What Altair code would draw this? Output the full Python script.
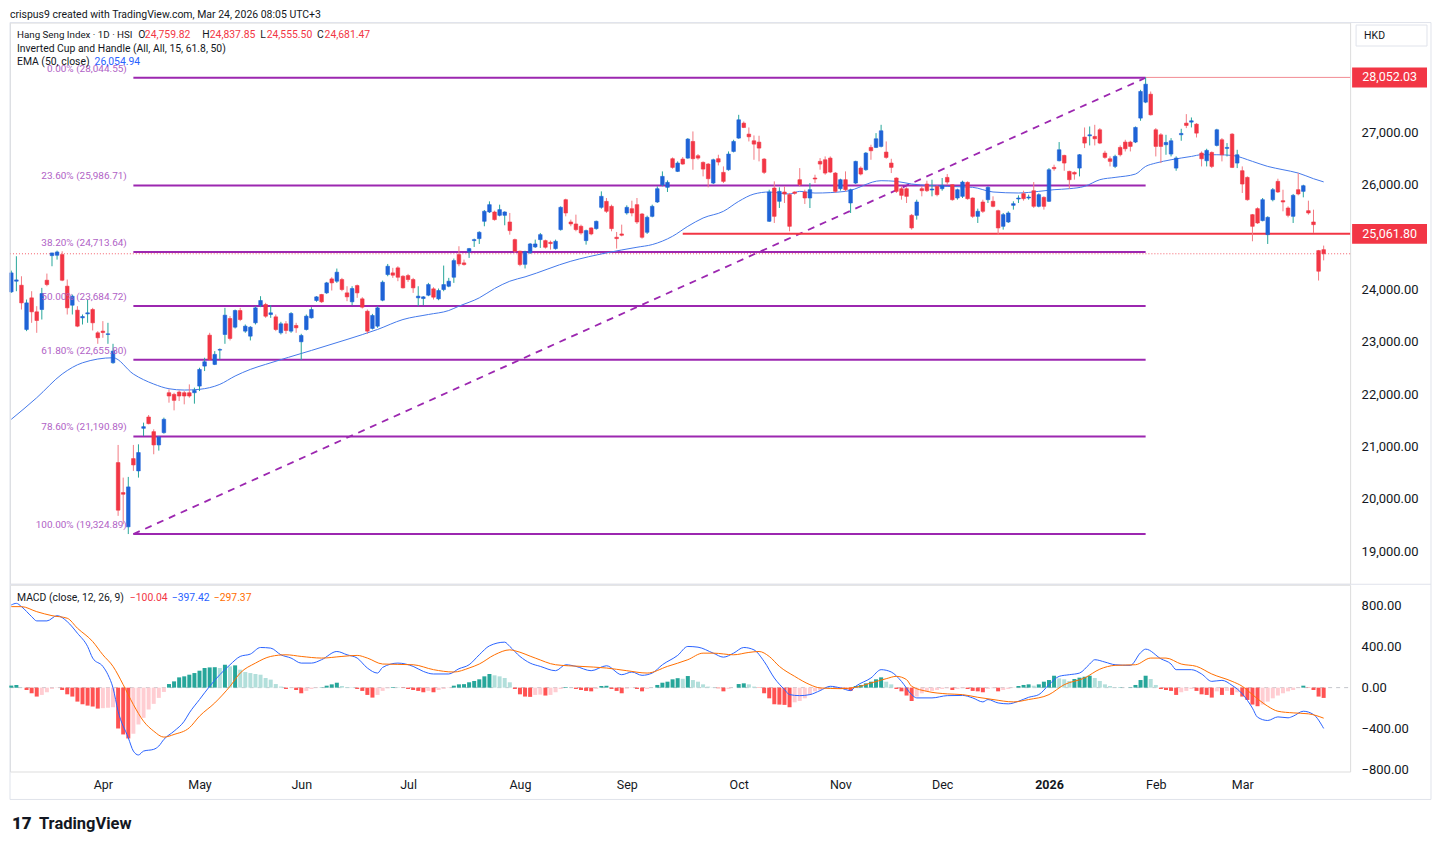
import altair as alt
import pandas as pd

# ---------------- values ----------------
opens = [
    23953, 24157, 24080, 23235, 23839, 23572, 23616, 24176, 24646, 24653,
    24666, 24062, 23699, 23604, 23457, 23533, 23616, 23171, 23203, 23139,
    22599, 20691, 20118, 19463, 20767, 20532, 21346, 21562, 21282, 21028,
    21263, 22026, 21994, 22039, 22026, 22026, 22026, 22153, 22535, 23126,
    22567, 22840, 23139, 23444, 23279, 23597, 23203, 23107, 23362, 23699,
    23712, 23521, 23476, 23171, 23343, 23203, 23311, 22999, 23234, 23457,
    23788, 23903, 23934, 24201, 24157, 24189, 23934, 23763, 24074, 23820,
    23584, 23254, 23298, 23794, 24284, 24316, 24412, 24252, 24265, 24189,
    23839, 23826, 23890, 24011, 23820, 23998, 24061, 24233, 24666, 24507,
    24717, 24933, 24971, 25302, 25480, 25480, 25416, 25416, 25289, 24952,
    24730, 24480, 24698, 24812, 24952, 24933, 24901, 24780, 25143, 25715,
    25289, 25251, 25207, 24933, 25175, 25162, 25569, 25683, 25588, 24997,
    25060, 25461, 25543, 25620, 25442, 25092, 25397, 25671, 25998, 25951,
    26498, 26256, 26491, 26510, 26828, 26555, 26428, 26396, 26033, 26498,
    26237, 26288, 26637, 26892, 27178, 26968, 26841, 26815, 26491, 25302,
    25938, 25684, 25862, 25811, 25862, 26097, 25862, 25747, 26129, 26447,
    26478, 26510, 26224, 25925, 26097, 25652, 26033, 26319, 26288, 26714,
    26714, 26733, 26625, 26415, 26129, 25925, 25925, 25416, 25416, 25925,
    26014, 25900, 25970, 25925, 26141, 26001, 25747, 25779, 26046, 25747,
    25397, 25671, 25715, 25684, 25505, 25206, 25289, 25607, 25728, 25830,
    25747, 25887, 25588, 25760, 25684, 26332, 26459, 26561, 26256, 26237,
    26319, 26911, 26936, 26924, 27051, 26606, 26497, 26351, 26714, 26816,
    26816, 26816, 27274, 27579, 27731, 27051, 26955, 26765, 26587, 26319,
    26956, 27178, 27197, 27159, 26606, 26459, 26618, 26752, 26860, 26695,
    26968, 26415, 26269, 26141, 25429, 25544, 25315, 25047, 25715, 26065,
    25696, 25556, 25397, 25906, 25874, 25505, 25289, 24742, 24759.82]

highs = [
    24360, 24634, 24252, 23807, 23966, 23680, 24030, 24303, 24700, 24742,
    24729, 24189, 23902, 23680, 23521, 23807, 23648, 23203, 23394, 23362,
    22961, 21028, 20404, 20417, 21028, 21040, 21454, 21600, 21327, 21200,
    21550, 22090, 22026, 22071, 22058, 22185, 22122, 22503, 22694, 23171,
    22821, 22872, 23648, 23489, 23616, 23648, 23330, 23298, 23680, 23871,
    23744, 23699, 23521, 23381, 23394, 23566, 23362, 23152, 23521, 23661,
    23871, 23915, 24144, 24233, 24399, 24221, 24061, 24061, 24093, 23852,
    23616, 23533, 23680, 24170, 24487, 24412, 24443, 24271, 24297, 24221,
    24061, 23871, 24125, 24042, 24017, 24456, 24221, 24590, 24825, 24570,
    24793, 24971, 25111, 25518, 25683, 25505, 25620, 25493, 25461, 24971,
    24742, 24740, 24888, 24952, 25079, 24952, 24933, 24952, 25588, 25734,
    25334, 25429, 25238, 25143, 25187, 25315, 25874, 25747, 25620, 25098,
    25238, 25607, 25696, 25747, 25461, 25410, 25620, 25970, 26256, 26084,
    26523, 26447, 26529, 26892, 27019, 26587, 26447, 26415, 26498, 26574,
    26351, 26637, 26860, 27337, 27210, 27095, 26943, 26937, 26510, 25906,
    26065, 25951, 25970, 25843, 25874, 26319, 25906, 26033, 26192, 26510,
    26542, 26542, 26243, 26116, 26256, 25925, 26459, 26351, 26625, 26765,
    26987, 27146, 26828, 26497, 26141, 25970, 25951, 25442, 25715, 25970,
    26078, 26097, 25989, 26129, 26205, 26014, 25925, 26078, 26065, 25760,
    25544, 25715, 25970, 25779, 25525, 25461, 25493, 25684, 25798, 25887,
    25811, 26052, 25836, 25779, 26319, 26383, 26816, 26574, 26269, 26256,
    26587, 27095, 27114, 27146, 27083, 26650, 26542, 26574, 26752, 26860,
    26841, 27114, 27814, 28052, 27782, 27083, 26987, 26955, 26892, 26542,
    27070, 27350, 27286, 27178, 26637, 26688, 26637, 27070, 26892, 26797,
    26987, 26669, 26351, 26160, 25442, 25569, 25747, 25397, 25938, 26116,
    25906, 25588, 25824, 26224, 26001, 25696, 25524, 24755, 24837.85]

lows = [
    23934, 23966, 23616, 23203, 23362, 23171, 23425, 24061, 24443, 24570,
    24157, 23521, 23521, 23279, 23330, 23362, 23216, 22961, 23076, 22961,
    22580, 19673, 19514, 19325, 20532, 20404, 21199, 21422, 20850, 20920,
    21244, 21836, 21689, 21867, 21804, 21931, 21817, 22058, 22440, 22643,
    22554, 22662, 22961, 23025, 23254, 23394, 23171, 23025, 23330, 23661,
    23457, 23457, 23203, 23139, 23152, 23171, 23171, 22650, 23216, 23444,
    23763, 23744, 23915, 23979, 24125, 23966, 23775, 23699, 23839, 23635,
    23152, 23235, 23267, 23775, 24252, 24221, 24157, 24017, 24144, 23934,
    23680, 23699, 23871, 23807, 23794, 23966, 24042, 24125, 24443, 24456,
    24602, 24812, 24869, 25207, 25461, 25315, 25397, 25226, 25047, 24698,
    24443, 24400, 24679, 24793, 24793, 24780, 24761, 24761, 25124, 25397,
    25207, 25111, 25047, 24856, 25035, 25143, 25543, 25461, 25111, 24780,
    25015, 25429, 25397, 25251, 24971, 25060, 25378, 25652, 25970, 25862,
    26307, 26243, 26383, 26498, 26288, 26479, 26160, 25951, 26014, 26370,
    26033, 26269, 26618, 26879, 27083, 26828, 26478, 26447, 26205, 25289,
    25270, 25557, 25652, 25111, 25811, 25970, 25633, 25556, 26033, 26288,
    26192, 26224, 25843, 25887, 25874, 25461, 26014, 26179, 26268, 26478,
    26701, 26714, 26497, 26224, 25843, 25715, 25652, 25143, 25334, 25779,
    25862, 25779, 25779, 25887, 26001, 25696, 25715, 25747, 25715, 25366,
    25270, 25461, 25652, 25569, 25047, 25143, 25270, 25525, 25652, 25696,
    25715, 25557, 25569, 25525, 25671, 26268, 26447, 26268, 25925, 26097,
    26160, 26701, 26752, 26752, 26777, 26497, 26351, 26319, 26542, 26637,
    26637, 26797, 27223, 27560, 27324, 26542, 26415, 26574, 26542, 26268,
    26841, 27083, 27096, 26904, 26351, 26351, 26319, 26733, 26447, 26542,
    26319, 26319, 25843, 25696, 24920, 25251, 25302, 24869, 25684, 25843,
    25493, 25378, 25270, 25798, 25760, 25429, 25079, 24170, 24555.50]

closes = [
    24316, 24182, 23743, 23743, 23572, 23406, 23922, 24093, 24697, 24716,
    24176, 23648, 23871, 23298, 23482, 23553, 23362, 23076, 23177, 23152,
    22821, 19781, 20086, 20226, 20646, 20882, 21377, 21435, 21028, 21180,
    21518, 21963, 21880, 21963, 21963, 21963, 22071, 22471, 22618, 22662,
    22758, 22853, 23508, 23063, 23597, 23425, 23298, 23279, 23648, 23788,
    23489, 23553, 23234, 23343, 23216, 23540, 23266, 23120, 23489, 23616,
    23858, 23763, 24125, 24125, 24329, 23998, 23858, 24017, 23934, 23661,
    23203, 23502, 23648, 24138, 24443, 24272, 24233, 24030, 24189, 24030,
    23871, 23858, 24093, 23852, 23979, 24093, 24157, 24551, 24488, 24475,
    24780, 24952, 25092, 25493, 25620, 25334, 25525, 25480, 25124, 24730,
    24475, 24720, 24869, 24869, 25047, 24806, 24876, 24920, 25569, 25461,
    25251, 25143, 25079, 25124, 25060, 25302, 25779, 25493, 25162, 24971,
    25035, 25569, 25461, 25289, 24997, 25378, 25588, 25925, 26160, 26046,
    26332, 26415, 26396, 26873, 26498, 26510, 26300, 26116, 26478, 26434,
    26065, 26587, 26828, 27242, 27095, 26917, 26777, 26701, 26237, 25862,
    25397, 25874, 25823, 25206, 25836, 26001, 25747, 25906, 26110, 26396,
    26224, 26243, 25874, 26097, 25906, 25906, 26447, 26205, 26606, 26650,
    26879, 27032, 26523, 26332, 25874, 25798, 25779, 25175, 25671, 25887,
    25887, 25919, 25811, 25989, 26052, 25715, 25906, 26052, 25734, 25397,
    25493, 25493, 25951, 25588, 25175, 25429, 25461, 25639, 25747, 25734,
    25766, 25588, 25811, 25588, 26287, 26307, 26669, 26415, 26097, 26205,
    26574, 26797, 26955, 26879, 26797, 26523, 26447, 26542, 26574, 26688,
    26733, 27096, 27783, 27922, 27337, 26733, 26733, 26809, 26841, 26510,
    26981, 27134, 27223, 26987, 26497, 26657, 26351, 27051, 26574, 26714,
    26332, 26574, 26014, 25715, 25206, 25270, 25715, 25378, 25906, 25862,
    25671, 25416, 25798, 25824, 25982, 25461, 25238, 24348, 24681.47]

ema_idx = [0, 5, 10, 14, 20, 24, 28, 31, 34, 37, 41, 44, 47, 50, 59, 66, 72, 77, 82, 86,
           88, 92, 95, 98, 101, 110, 117, 123, 126, 130, 133, 136, 140, 143, 146, 149, 153,
           155, 158, 164, 171, 174, 177, 184, 189, 193, 198, 202, 205, 208, 211, 214, 217,
           221, 223, 225, 228, 232, 234, 237, 240, 244, 247, 250, 253, 256, 258]
ema_val = [21518, 21930, 22383, 22598, 22694, 22383, 22192, 22102, 22077, 22091, 22186,
           22345, 22472, 22568, 22834, 23044, 23235, 23425, 23521, 23597, 23680, 23839,
           24017, 24157, 24240, 24539, 24698, 24806, 24857, 25016, 25206, 25365, 25493,
           25683, 25823, 25862, 25823, 25874, 25842, 25874, 26078, 26065, 26014, 25970,
           25951, 25862, 25843, 25874, 25906, 25925, 25970, 26097, 26141, 26205, 26351,
           26415, 26478, 26542, 26574, 26574, 26561, 26447, 26351, 26288, 26224, 26116,
           26054.94]

macd_idx = [0, 1, 2, 4, 5, 7, 9, 11, 13, 15, 16, 18, 19, 20, 21, 23, 24, 25, 26, 28, 29, 30,
            32, 34, 35, 37, 39, 41, 43, 45, 47, 49, 51, 53, 55, 57, 59, 61, 64, 66, 68, 70,
            72, 73, 76, 79, 81, 83, 86, 88, 90, 92,
            94, 97, 98, 100, 102, 104, 107, 109, 111, 114, 117, 120, 122, 124, 126, 128, 131,
            133, 135, 138, 140, 142, 144, 146, 148, 150, 152, 153, 155, 157, 159, 161, 163,
            165, 166, 169, 171, 173, 175, 177, 178, 181, 184, 187,
            189, 191, 192, 194, 196, 198, 200, 202, 204, 206, 208, 210, 212, 213, 215, 217,
            220, 222, 223, 226, 228, 229, 232, 234, 236, 238, 240, 242, 244, 245, 247, 249,
            251, 252, 254, 256, 258]
macd_val = [805, 821, 789, 692, 650, 650, 701, 643, 530, 401, 288, 207, 126, -3, -230, -488,
            -618, -656, -618, -601, -569, -504, -424, -327, -246, -116, 13, 126, 223, 304,
            327, 391, 385, 320, 288, 239, 239, 272, 352, 320, 288, 191, 142, 197, 239, 207,
            158, 133, 133, 184, 223, 320,
            407, 443, 401, 304, 239, 207, 165, 223, 207, 165, 213, 126, 152, 120, 142, 223,
            314, 401, 394, 336, 297, 336, 391, 368, 255, 94, -19, -68, -78, -68, -29, 13, -3,
            -29, 13, 94, 175, 152, 61, -68, -100, -100, -78, -76,
            -100, -139, -116, -149, -158, -133, -94, -68, 29, 110, 126, 142, 230, 272, 249,
            223, 217, 340, 375, 281, 230, 175, 175, 133, 61, 71, 22, -60, -200, -288, -320,
            -285, -294, -278, -230, -262, -397.42]

signal_idx = [0, 2, 5, 8, 11, 13, 16, 18, 20, 22, 24, 26, 28, 30, 32, 35, 37, 40, 43, 45, 48,
              51, 54, 57, 61, 65, 68, 70, 73, 79, 83, 87, 90, 92,
              95, 98, 99, 103, 107, 112, 117, 121, 125, 129, 133, 136, 138, 142, 145, 147,
              149, 151, 154, 157, 159, 163, 166, 169, 172, 174, 176, 177, 180, 184, 187,
              190, 193, 197, 200, 204, 207, 211, 214, 217, 221, 224, 227, 230, 233, 236, 240,
              242, 244, 247, 249, 252, 255, 258]
signal_val = [789, 789, 740, 701, 676, 579, 449, 320, 207, 29, -165, -327, -424, -482, -456,
              -391, -278, -149, 13, 142, 239, 304, 320, 304, 288, 304, 314, 288, 230, 223,
              175, 152, 191, 230,
              320, 368, 359, 288, 223, 207, 191, 165, 142, 207, 272, 336, 336, 320, 343, 352,
              304, 207, 110, 29, -3, -10, 3, 45, 87, 110, 78, 13, -36, -61, -68,
              -94, -116, -139, -116, -68, 29, 94, 180, 217, 223, 288, 288, 230, 207, 133, 61,
              13, -68, -181, -230, -246, -255, -297.37]

hist_val = [
    20, 25, 3, -23, -55, -87, -71, -45, -13, -3,
    -23, -65, -87, -136, -162, -175, -184, -204, -200, -196,
    -191, -398, -456, -495, -449, -359, -294, -213, -158, -100,
    -42, 35, 61, 100, 110, 126, 142, 165, 191, 197,
    199, 191, 223, 207, 217, 175, 152, 142, 133, 126,
    94, 78, 35, 10, -13, -3, -23, -55, -32, -13,
    -3, 3, 19, 32, 48, 16, 6, 3, -13, -32,
    -71, -97, -71, -32, -6, 6, 3, -3, -13, -23,
    -32, -45, -32, -45, -23, -13, -3, 19, 32, 34,
    52, 65, 81, 110, 133, 120, 110, 94, 52, -13,
    -65, -87, -90, -71, -68, -77, -71, -45, -13, 6,
    0, -13, -23, -32, -36, -13, 16, 18, -13, -32,
    -55, -10, -3, -13, -36, -13, 0, 26, 48, 58,
    81, 92, 86, 113, 74, 58, 32, 10, 3, -6,
    -36, -13, 0, 35, 42, 32, 10, -3, -55, -104,
    -162, -165, -168, -191, -143, -130, -104, -71, -36, -23,
    -6, 3, -3, -13, -15, -32, 16, 26, 42, 58,
    81, 100, 58, 32, -13, -36, -77, -130, -87, -55,
    -36, -32, -23, -13, -6, -23, -13, -6, -13, -32,
    -36, -45, -13, -6, -36, -23, -13, -3, 16, 26,
    32, 19, 32, 58, 74, 116, 90, 81, 65, 84,
    97, 106, 116, 94, 65, 32, 16, 3, 3, 0,
    3, 26, 74, 116, 84, 26, -13, -23, -32, -71,
    -45, -32, -13, -32, -65, -71, -97, -36, -71, -32,
    -71, -45, -87, -120, -165, -181, -165, -136, -104, -77,
    -55, -36, -23, -3, 19, -3, -23, -87, -100.04]

month_idx = [18, 37, 57, 78, 100, 121, 143, 163, 183, 204, 225, 242]
month_lab = ["Apr", "May", "Jun", "Jul", "Aug", "Sep", "Oct", "Nov", "Dec", "2026", "Feb", "Mar"]

fib_pct = [0.0, 23.6, 38.2, 50.0, 61.8, 78.6, 100.0]
fib_val = [28044.55, 25986.71, 24713.64, 23684.72, 22655.80, 21190.89, 19324.89]
fib_from, fib_to = 24, 223
support_from, support_val = 132, 25061.80
high_val = 28052.03
last_ohlc = [24759.82, 24837.85, 24555.50, 24681.47]
ema_last = 26054.94
macd_last = [-100.04, -397.42, -297.37]
price_ticks = [19000, 20000, 21000, 22000, 23000, 24000, 26000, 27000]
macd_ticks = [800, 400, 0, -400, -800]

assert len(opens) == len(highs) == len(lows) == len(closes) == len(hist_val) == 259
assert len(ema_idx) == len(ema_val)
assert len(macd_idx) == len(macd_val)
assert len(signal_idx) == len(signal_val)

# ---------------- styling ----------------
FONT = "Roboto"
DARK = "#131722"
BLUE = "#1F63D6"
TEAL = "#26A69A"
RED = "#F23645"
REDW = "#F27A83"
PURPLE = "#9C27B0"
PURPLE_T = "#B062C6"
EMA_C = "#4479EA"
MACD_C = "#2962FF"
SIG_C = "#FF6D00"
GRID_C = "#E0E3EB"

W = 1342
PH = 562
MH = 187
XMIN, XMAX = -0.255, 263.2
xs = alt.Scale(domain=[XMIN, XMAX], nice=False, zero=False, padding=0)
ys = alt.Scale(domain=[18375, 29100], nice=False, zero=False, padding=0)
ms = alt.Scale(domain=[-817, 1002], nice=False, zero=False, padding=0)

price_axis = alt.Axis(orient="right", values=price_ticks, format=",.2f", domain=False,
                      ticks=False, grid=False, labelPadding=11, labelFontSize=13,
                      labelColor=DARK, labelFont=FONT, title=None)
macd_axis = alt.Axis(orient="right", values=macd_ticks, format=",.2f", domain=False,
                     ticks=False, grid=False, labelPadding=11, labelFontSize=13,
                     labelColor=DARK, labelFont=FONT, title=None)
expr = "''"
for mi, ml in zip(reversed(month_idx), reversed(month_lab)):
    expr = f"datum.value == {mi} ? '{ml}' : {expr}"
bold_idx = month_idx[month_lab.index("2026")]
month_axis = alt.Axis(orient="bottom", values=month_idx, labelExpr=expr, domain=False,
                      ticks=False, grid=False, labelPadding=7, labelFontSize=12.5,
                      labelColor=DARK, labelFont=FONT, title=None, labelFlush=False,
                      labelOverlap=False,
                      labelFontWeight={"condition": {"test": f"datum.value == {bold_idx}",
                                                     "value": "bold"},
                                       "value": "normal"})


def PX(f):
    return alt.X(f, type="quantitative", scale=xs, axis=None)


def PY(f):
    return alt.Y(f, type="quantitative", scale=ys, axis=price_axis)


def MX(f):
    return alt.X(f, type="quantitative", scale=xs, axis=month_axis)


def MY(f):
    return alt.Y(f, type="quantitative", scale=ms, axis=macd_axis)


ONE = pd.DataFrame({"k": [0]})


def T(s, x, y, color=DARK, size=10.4, weight="normal", align="left"):
    return alt.Chart(ONE).mark_text(text=s, align=align, baseline="middle", color=color,
                                    fontSize=size, fontWeight=weight, font=FONT).encode(
        x=alt.value(x), y=alt.value(y))


def fmt(v):
    return f"{v:,.2f}".replace("-", "\u2212")


# ---------------- tables ----------------
n = len(opens)
cdf = pd.DataFrame({"i": range(n), "o": opens, "h": highs, "l": lows, "c": closes})
fdf = pd.DataFrame({"s": fib_from, "e": fib_to, "v": fib_val,
                    "lab": [f"{p:.2f}% ({fmt(v)})" for p, v in zip(fib_pct, fib_val)]})
diag = pd.DataFrame({"i": [fib_from, fib_to], "v": [fib_val[-1], fib_val[0]]})
sup = pd.DataFrame({"s": [support_from], "e": [XMAX], "v": [support_val]})
hi = pd.DataFrame({"s": [fib_to], "e": [XMAX], "v": [high_val]})
lastc = pd.DataFrame({"s": [XMIN], "e": [XMAX], "v": [last_ohlc[3]]})
boxes = pd.DataFrame({"v": [high_val, support_val], "t": [fmt(high_val), fmt(support_val)]})
edf = pd.DataFrame({"i": ema_idx, "v": ema_val})
mdf = pd.DataFrame({"i": macd_idx, "v": macd_val})
sdf = pd.DataFrame({"i": signal_idx, "v": signal_val})
hdf = pd.DataFrame({"i": range(n), "v": hist_val})
prev = hdf["v"].shift(1).fillna(hdf["v"])
hdf["cat"] = [("pu" if v >= p else "pd") if v >= 0 else ("nd" if v < p else "nu")
              for v, p in zip(hdf["v"], prev)]
zero = pd.DataFrame({"s": [XMIN], "e": [XMAX], "v": [0]})

up = "datum.c >= datum.o"

# ---------------- price panel ----------------
fib_lines = alt.Chart(fdf).mark_rule(color=PURPLE, strokeWidth=2).encode(
    x=PX("s"), x2="e", y=PY("v"))
fib_diag = alt.Chart(diag).mark_line(color=PURPLE, strokeWidth=1.8, strokeDash=[7, 6]).encode(
    x=PX("i"), y=PY("v"))
last_line = alt.Chart(lastc).mark_rule(color=RED, strokeWidth=1, strokeDash=[1, 2],
                                       opacity=0.8).encode(x=PX("s"), x2="e", y=PY("v"))
sup_line = alt.Chart(sup).mark_rule(color=RED, strokeWidth=2).encode(
    x=PX("s"), x2="e", y=PY("v"))
hi_line = alt.Chart(hi).mark_rule(color="#F28B93", strokeWidth=1).encode(
    x=PX("s"), x2="e", y=PY("v"))
ema_line = alt.Chart(edf).mark_line(color=EMA_C, strokeWidth=1, interpolate="monotone").encode(
    x=PX("i"), y=PY("v"))
wicks = alt.Chart(cdf).mark_rule(strokeWidth=1).encode(
    x=PX("i"), y=PY("l"), y2="h",
    color=alt.condition(up, alt.value(TEAL), alt.value(REDW)))
bodies = alt.Chart(cdf).mark_bar(size=3.6, strokeWidth=0.6).encode(
    x=PX("i"), y=PY("o"), y2="c",
    color=alt.condition(up, alt.value(BLUE), alt.value(RED)),
    stroke=alt.condition(up, alt.value(BLUE), alt.value(RED)))
fib_text = alt.Chart(fdf).mark_text(align="right", baseline="middle", dy=-9, fontSize=10,
                                    font=FONT, color=PURPLE_T).encode(
    x=alt.value(117), y=PY("v"), text="lab:N")
box_shape = "M-3.75,-1L3.75,-1L3.75,1L-3.75,1Z"
box_marks = alt.Chart(boxes).mark_point(shape=box_shape, filled=True, size=400, opacity=1,
                                        color=RED, strokeWidth=0).encode(
    x=alt.value(1381.5), y=PY("v"))
box_text = alt.Chart(boxes).mark_text(color="white", fontSize=12.5, font=FONT,
                                      baseline="middle").encode(
    x=alt.value(1381.5), y=PY("v"), text="t:N")
hkd_box = alt.Chart(ONE).mark_point(shape="M-3.381,-1L3.381,-1L3.381,1L-3.381,1Z",
                                    filled=False, size=441, opacity=1, color=GRID_C,
                                    strokeWidth=1).encode(x=alt.value(1383.5), y=alt.value(13))

header = [
    T("crispus9 created with TradingView.com, Mar 24, 2026 08:05 UTC+3", 0, -8, size=10.5),
    T("Hang Seng Index \u00b7 1D \u00b7 HSI", 7, 12, size=9.8),
    T("O", 128.5, 12), T(fmt(last_ohlc[0]), 135, 12, color=RED),
    T("H", 192.5, 12), T(fmt(last_ohlc[1]), 200, 12, color=RED),
    T("L", 250.5, 12), T(fmt(last_ohlc[2]), 257, 12, color=RED),
    T("C", 307.5, 12), T(fmt(last_ohlc[3]), 315, 12, color=RED),
    T("Inverted Cup and Handle (All, All, 15, 61.8, 50)", 7, 26),
    T("EMA (50, close)", 7, 39.5), T(fmt(ema_last), 84.7, 39.5, color=MACD_C),
    T("HKD", 1356, 13, size=10.5),
]

price = alt.layer(
    fib_lines, fib_diag, last_line, sup_line, hi_line, ema_line, wicks, bodies, fib_text,
    box_marks, box_text, hkd_box, *header
).properties(width=W, height=PH)

# ---------------- MACD panel ----------------
border = alt.Chart(ONE).mark_rect(fillOpacity=0, stroke=GRID_C, strokeWidth=1).encode(
    x=alt.value(0), x2=alt.value(1423), y=alt.value(-563), y2=alt.value(215))
sep = alt.Chart(ONE).mark_rule(color=GRID_C, strokeWidth=1).encode(
    x=alt.value(0), x2=alt.value(1423), y=alt.value(-0.5))
zero_line = alt.Chart(zero).mark_rule(color="#C3C5CB", strokeWidth=1, strokeDash=[4, 4]).encode(
    x=MX("s"), x2="e", y=MY("v"))
hist = alt.Chart(hdf).mark_bar(size=4).encode(
    x=MX("i"), y=MY("v"), y2=alt.datum(0),
    color=alt.Color("cat:N", scale=alt.Scale(domain=["pu", "pd", "nd", "nu"],
                                             range=["#26A69A", "#B2DFDB", "#FF5252", "#FFCDD2"]),
                    legend=None))
macd_line = alt.Chart(mdf).mark_line(color=MACD_C, strokeWidth=1, interpolate="monotone").encode(
    x=MX("i"), y=MY("v"))
sig_line = alt.Chart(sdf).mark_line(color=SIG_C, strokeWidth=1, interpolate="monotone").encode(
    x=MX("i"), y=MY("v"))
mheader = [
    T("MACD (close, 12, 26, 9)", 7, 13),
    T(fmt(macd_last[0]), 120, 13, color=RED),
    T(fmt(macd_last[1]), 162, 13, color=MACD_C),
    T(fmt(macd_last[2]), 204, 13, color=SIG_C),
    T("17", 2, 240, size=17, weight=900),
    T("TradingView", 29, 240, size=16.5, weight="bold"),
]

macd = alt.layer(border, sep, zero_line, hist, macd_line, sig_line, *mheader).properties(
    width=W, height=MH)

chart = alt.vconcat(price, macd, spacing=1, bounds="flush", padding=0).configure_view(
    stroke=None).configure(font=FONT)

chart.save("out.html", embed_options={"renderer": "svg", "actions": False})
